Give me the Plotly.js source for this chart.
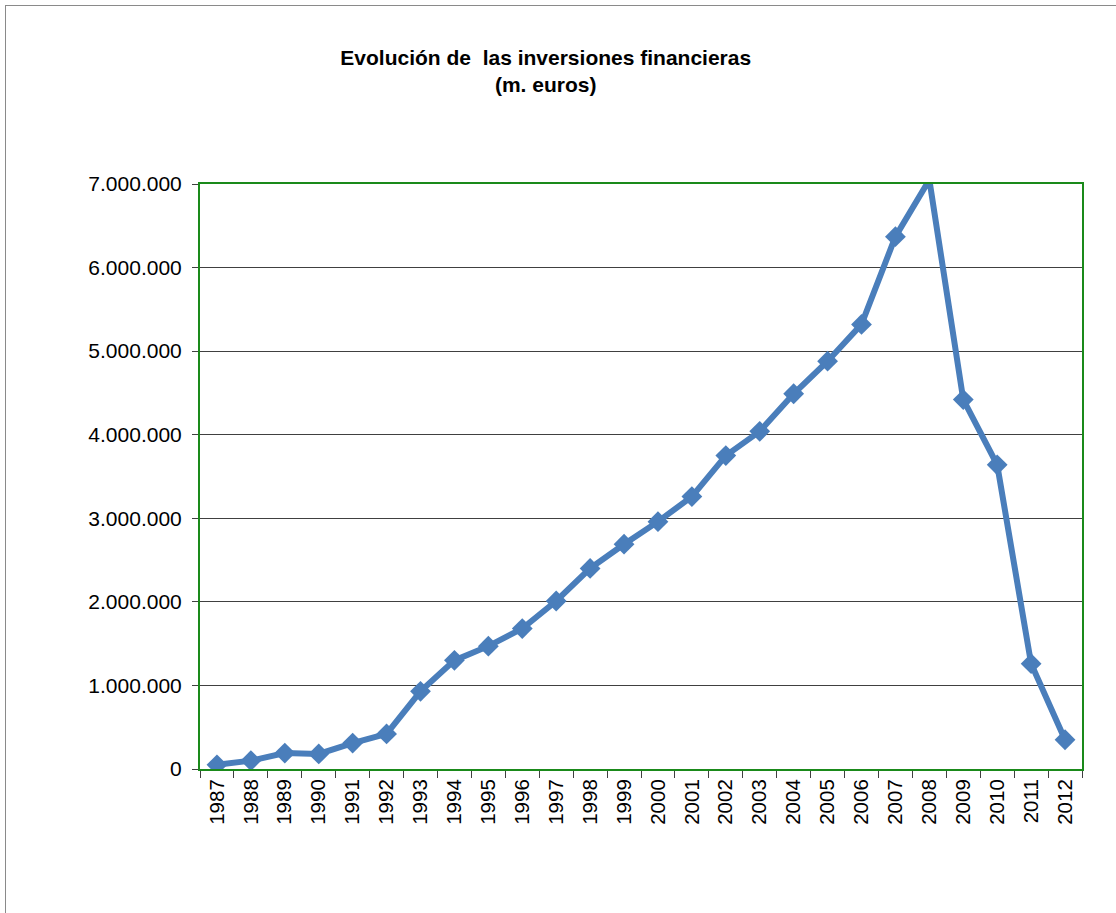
<!DOCTYPE html>
<html>
<head>
<meta charset="utf-8">
<script src="https://cdn.plot.ly/plotly-3.0.1.min.js"></script>
<style>
  html, body { margin: 0; padding: 0; background: #fff; }
  #frame { position: absolute; left: 5px; top: 5px; width: 1111px; height: 908px;
           border-left: 1.5px solid #8a8a8a; border-top: 1.5px solid #8a8a8a; box-sizing: border-box; }
  #chart { position: absolute; left: 0; top: 0; width: 1116px; height: 913px; }
</style>
</head>
<body>
<div id="frame"></div>
<div id="chart"></div>
<script>
const years = ['1987','1988','1989','1990','1991','1992','1993','1994','1995','1996','1997','1998','1999',
               '2000','2001','2002','2003','2004','2005','2006','2007','2008','2009','2010','2011','2012'];
const inversiones = [50000, 100000, 190000, 180000, 310000, 420000, 930000, 1300000, 1470000, 1680000,
                     2010000, 2400000, 2690000, 2960000, 3260000, 3750000, 4040000, 4490000, 4880000,
                     5320000, 6370000, 7050000, 4420000, 3640000, 1260000, 350000];
const yMax = 7000000;

const markerSizes = inversiones.map(v => v > yMax ? 0 : 16);

const trace = {
  x: years,
  y: inversiones,
  type: 'scatter',
  mode: 'lines+markers',
  line: { color: '#4a7ebb', width: 6 },
  marker: { symbol: 'diamond', size: markerSizes, color: '#4a7ebb', opacity: 1, line: { width: 0 } },
  cliponaxis: true,
  hoverinfo: 'x+y'
};

const layout = {
  width: 1116, height: 913,
  paper_bgcolor: 'rgba(0,0,0,0)',
  plot_bgcolor: '#ffffff',
  separators: ',.',
  showlegend: false,
  margin: { l: 200, r: 34, t: 184, b: 144 },
  font: { family: 'Liberation Sans, Arial, sans-serif', color: '#000' },
  title: {
    text: '<b>Evolución de  las inversiones financieras<br>(m. euros)</b>',
    font: { size: 21, color: '#000', family: 'Liberation Sans, Arial, sans-serif' },
    xref: 'container', yref: 'container',
    x: 0.489, xanchor: 'center',
    y: 1 - 65/913, yanchor: 'top'
  },
  xaxis: {
    type: 'category',
    range: [-0.5, years.length - 0.5],
    tickangle: -90,
    tickfont: { size: 20.5 },
    showgrid: false,
    showline: true, linecolor: '#1a8a1a', linewidth: 2, mirror: true,
    ticks: 'outside', ticklen: 7, tickcolor: '#404040', tickwidth: 1,
    tickson: 'boundaries',
    zeroline: false,
    fixedrange: true
  },
  yaxis: {
    range: [0, yMax],
    tickvals: [0, 1000000, 2000000, 3000000, 4000000, 5000000, 6000000, 7000000],
    tickformat: ',d',
    tickfont: { size: 21 },
    ticklabelstandoff: 6,
    showgrid: true, gridcolor: '#404040', gridwidth: 1,
    showline: true, linecolor: '#1a8a1a', linewidth: 2, mirror: true,
    ticks: 'outside', ticklen: 6, tickcolor: '#404040', tickwidth: 1,
    zeroline: false,
    fixedrange: true
  }
};

Plotly.newPlot('chart', [trace], layout, { displayModeBar: false, staticPlot: true });
</script>
</body>
</html>
